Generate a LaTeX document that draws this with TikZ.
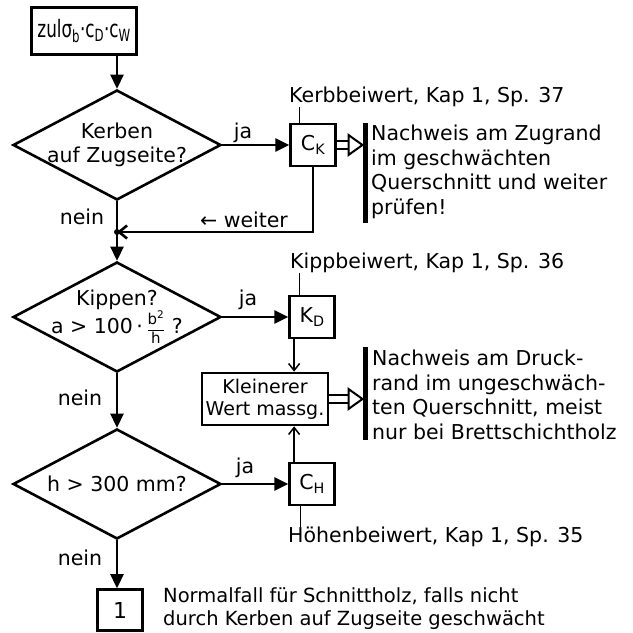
\documentclass[tikz,border=0pt]{standalone}
\usepackage{amsmath}
\usepackage{graphicx}
\usepackage{fontspec}
\setmainfont{DejaVu Sans}
\usetikzlibrary{positioning,arrows.meta,shapes.geometric,calc}

% double shaft with an open head, ending on a bar
\newcommand{\fatarrow}[2]{%
  \draw[line width=2pt] ($(#1)+(0,-4)$) -- ($(#2)+(-14,-4)$)
    ($(#1)+(0,4)$) -- ($(#2)+(-14,4)$);
  \draw[line width=2pt,fill=white] ($(#2)+(-14,-10)$) -- (#2) -- ($(#2)+(-14,10)$) -- cycle;}

\begin{document}
\begin{tikzpicture}[x=1pt,y=-1pt,
        font=\fontsize{20.5}{24.5}\selectfont,
        every node/.style={inner sep=0pt},
        wire/.style={line width=2.6pt},
        ask/.style={draw,line width=2.6pt,diamond,aspect=1.9,inner sep=-10pt,minimum width=208pt,minimum height=110pt,align=center},
        box/.style={draw,line width=2.6pt,minimum width=45pt,minimum height=42pt},
        flow/.style={-{Triangle[length=14pt,width=13pt]},line width=2.6pt},
        back/.style={-{Straight Barb[length=7pt,width=11pt]},line width=1.5pt},
        lead/.style={line width=1.2pt},
        bar/.style={line width=5pt},
        note/.style={anchor=west,align=left},
        node distance=66pt]
    \useasboundingbox (0,0) rectangle (633,633);

    % main column of questions
    \node[draw,line width=2.6pt,minimum width=105pt,minimum height=47pt,font=\fontsize{24}{26}\selectfont] (start) at (84,31)
        {\scalebox{0.7}[1]{zulσ\textsubscript{b}·c\textsubscript{D}·c\textsubscript{W}}};
    \node[ask] (notch) at (117,145) {Kerben\\auf Zugseite?};
    \node[ask] (tilt) at (117,317) {Kippen?\\a > 100\,·\,{\fontsize{15}{15}\selectfont$\dfrac{\text{b\textsuperscript{2}}}{\text{h}}$} ?};
    \node[ask] (high) at (117,484) {h > 300 mm?};
    \node[draw,line width=2.6pt,minimum width=45pt,minimum height=41pt,font=\fontsize{22}{24}\selectfont] (one) at (120,610) {1};
    \coordinate (join) at (117,232);

    % coefficient boxes
    \node[box,right=67pt of notch] (ck) {C\textsubscript{K}};
    \node[box,right=66pt of tilt] (kd) {K\textsubscript{D}};
    \node[box,right=66pt of high] (ch) {C\textsubscript{H}};
    \node[draw,line width=2.6pt,minimum width=126pt,minimum height=52pt,align=center,
        font=\fontsize{19}{22}\selectfont] (min) at (265,399) {Kleinerer\\Wert massg.};

    % references and remarks
    \node[note] (ckref) at (289,97) {Kerbbeiwert, Kap 1, Sp. 37};
    \node[note] (kdref) at (290,263) {Kippbeiwert, Kap 1, Sp. 36};
    \node[note] (chref) at (288,537) {Höhenbeiwert, Kap 1, Sp. 35};
    \node[note] (zug) at (371,172) {Nachweis am Zugrand\\im geschwächten\\Querschnitt und weiter\\prüfen!};
    \node[note] (druck) at (372,395) {Nachweis am Druck-\\rand im ungeschwäch-\\ten Querschnitt, meist\\nur bei Brettschichtholz};
    \node[note,font=\fontsize{19.5}{23}\selectfont] (normal) at (163,609)
        {Normalfall für Schnittholz, falls nicht\\durch Kerben auf Zugseite geschwächt};

    % yes / no
    \node at (243,133) {ja};
    \node at (248,300) {ja};
    \node at (245,468) {ja};
    \node at (82,217) {nein};
    \node at (80,398) {nein};
    \node at (80,558) {nein};
    \node at (244,220) {← weiter};

    \draw[flow] (start.south -| notch.north) -- (notch.north);
    \draw[wire] (notch.south) -- (join);
    \fill (join) circle (3pt);
    \draw[flow] (join) -- (tilt.north);
    \draw[flow] (tilt.south) -- (high.north);
    \draw[flow] (high.south) -- (one.north -| high.south);
    \draw[flow] (notch.east) -- (ck.west);
    \draw[flow] (tilt.east) -- (kd.west);
    \draw[flow] (high.east) -- (ch.west);
    \draw[wire,-{Straight Barb[length=8pt,width=13pt]}] (ck.south) -- (ck.south |- join) -- (join);
    \draw[back] ([xshift=-18pt]kd.south) -- ([xshift=-18pt]kd.south |- min.north);
    \draw[back] ([xshift=-18pt]ch.north) -- ([xshift=-18pt]ch.north |- min.south);
    \draw[lead] ([xshift=-14pt]ck.north) -- ([xshift=-14pt]ck.north |- ckref.south);
    \draw[lead] ([xshift=-13pt]kd.north) -- ([xshift=-13pt]kd.north |- kdref.south);
    \draw[lead] ([xshift=-12pt]ch.south) -- ([xshift=-12pt]ch.south |- chref.north);

    % bars with the checks
    \coordinate (zugbar) at (365,123);
    \coordinate (druckbar) at (365,347);
    \draw[bar] (zugbar) -- ++(0,100);
    \draw[bar] (druckbar) -- ++(0,93);
    \coordinate (hit1) at ([xshift=-2.5pt]ck.east -| zugbar);
    \coordinate (hit2) at ([xshift=-2.5pt]min.east -| druckbar);
    \fatarrow{ck.east}{hit1}
    \fatarrow{min.east}{hit2}
\end{tikzpicture}
\end{document}
